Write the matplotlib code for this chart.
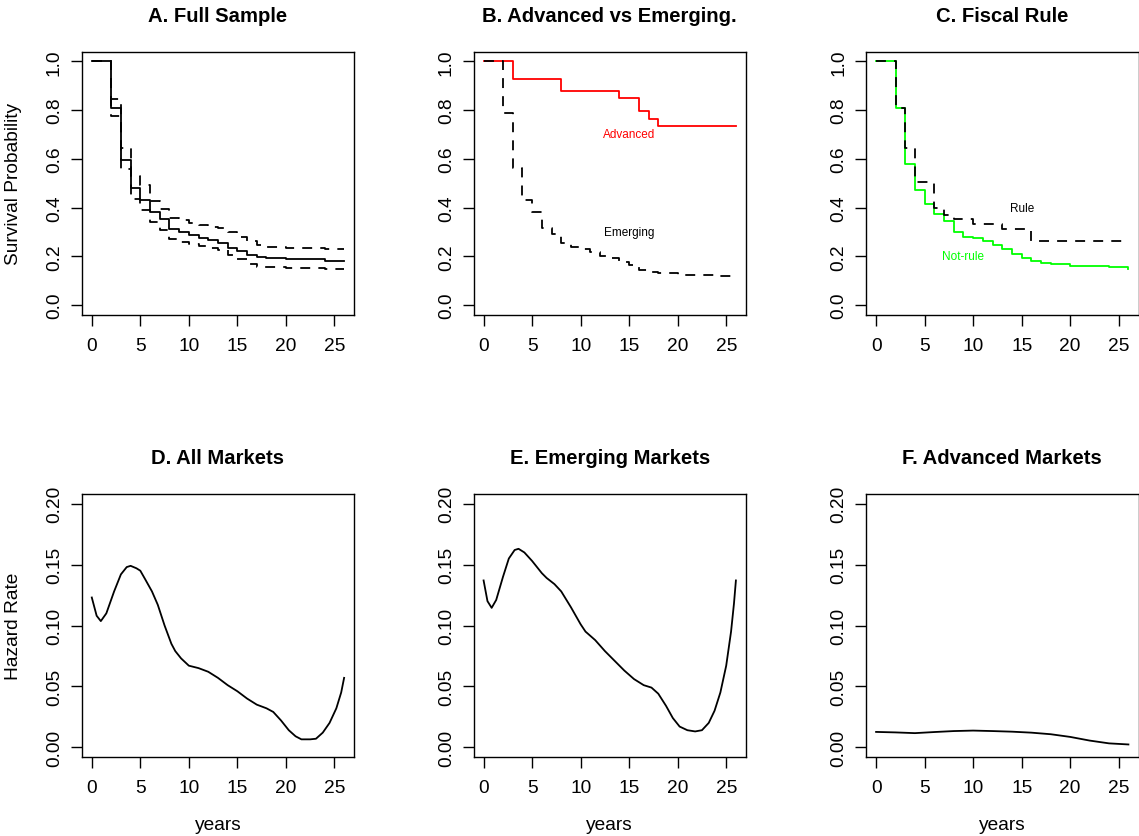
import numpy as np
import matplotlib
matplotlib.use("Agg")
import matplotlib.pyplot as plt

plt.rcParams['font.family'] = ['Liberation Sans', 'DejaVu Sans']

# ---- Kaplan-Meier survival curves (step functions) ----
km_t = [0, 2, 3, 4, 5, 6, 7, 8, 9, 10, 11, 12, 13, 14, 15, 16, 17, 18, 20, 24, 26]
full_surv = [1.0, 0.809, 0.597, 0.481, 0.433, 0.380, 0.351, 0.313, 0.298, 0.286, 0.276,
             0.265, 0.254, 0.235, 0.221, 0.205, 0.195, 0.191, 0.187, 0.182, 0.182]
full_upper = [1.0, 0.844, 0.645, 0.529, 0.492, 0.428, 0.396, 0.359, 0.348, 0.338, 0.330,
              0.322, 0.314, 0.298, 0.280, 0.262, 0.246, 0.237, 0.234, 0.228, 0.228]
full_lower = [1.0, 0.775, 0.557, 0.437, 0.389, 0.339, 0.307, 0.269, 0.260, 0.250, 0.244,
              0.235, 0.225, 0.205, 0.189, 0.167, 0.157, 0.154, 0.150, 0.148, 0.148]

adv_t = [0, 3, 8, 14, 16, 17, 18, 26]
adv_surv = [1.0, 0.929, 0.878, 0.850, 0.795, 0.765, 0.736, 0.736]
emg_surv = [1.0, 0.790, 0.563, 0.433, 0.380, 0.318, 0.291, 0.253, 0.236, 0.228, 0.216,
            0.202, 0.191, 0.178, 0.164, 0.143, 0.137, 0.133, 0.123, 0.118, 0.112]

norule_surv = [1.0, 0.809, 0.577, 0.471, 0.415, 0.373, 0.344, 0.298, 0.280, 0.273, 0.264,
               0.246, 0.231, 0.209, 0.193, 0.180, 0.173, 0.167, 0.161, 0.154, 0.148]
rule_t = [0, 2, 3, 4, 6, 7, 8, 10, 13, 16, 26]
rule_surv = [1.0, 0.809, 0.645, 0.505, 0.400, 0.370, 0.352, 0.331, 0.310, 0.264, 0.264]

# ---- smoothed hazard rates ----
hz_all_t = [0, 0.5, 0.93, 1.5, 2.3, 3.0, 3.6, 4.0, 4.6, 5.0, 5.5, 6.2, 6.8, 7.5, 8.2, 8.6,
            9.2, 10, 11, 12, 13, 14, 15, 16, 17, 18, 18.7, 19.5, 20.3, 21.0, 21.6, 22.5,
            23.1, 23.8, 24.5, 25.2, 25.7, 26.0]
hz_all = [0.123, 0.108, 0.1036, 0.110, 0.128, 0.142, 0.148, 0.149, 0.147, 0.145, 0.138,
          0.128, 0.117, 0.100, 0.085, 0.079, 0.073, 0.067, 0.065, 0.062, 0.057, 0.051,
          0.046, 0.040, 0.035, 0.032, 0.029, 0.022, 0.014, 0.009, 0.0065, 0.0065, 0.007,
          0.012, 0.020, 0.032, 0.045, 0.057]

hz_emg_t = [0, 0.4, 0.83, 1.3, 2.0, 2.6, 3.2, 3.6, 4.2, 5.0, 6.0, 6.5, 7.3, 8.0, 9.0, 10.0,
            10.5, 11.5, 12.5, 13.5, 14.5, 15.5, 16.5, 17.3, 18.0, 18.8, 19.5, 20.2, 21.0,
            21.8, 22.5, 23.2, 23.8, 24.4, 25.0, 25.5, 25.8, 26.0]
hz_emg = [0.137, 0.120, 0.1145, 0.121, 0.140, 0.155, 0.162, 0.163, 0.160, 0.153, 0.143,
          0.139, 0.134, 0.128, 0.115, 0.101, 0.095, 0.088, 0.079, 0.071, 0.063, 0.056,
          0.051, 0.049, 0.044, 0.034, 0.024, 0.017, 0.014, 0.013, 0.014, 0.020, 0.030,
          0.045, 0.067, 0.095, 0.118, 0.137]

hz_adv_t = [0, 2, 4, 6, 8, 10, 12, 14, 16, 18, 20, 22, 24, 26]
hz_adv = [0.0126, 0.0122, 0.0116, 0.0125, 0.0133, 0.0137, 0.0133, 0.0128, 0.0120, 0.0107,
          0.0085, 0.0055, 0.0032, 0.0023]

W, H = 1139, 837
fig = plt.figure(figsize=(W / 100, H / 100), dpi=100)

lefts = [81.7, 473.5, 866]
pw, ph = 272.5, 263
tops = [52.7, 495]

dash = (0, (5.5, 4.5))
lw = 1.3
fs = 13.8


def make_ax(col, row):
    ax = fig.add_axes([lefts[col] / W, (H - tops[row] - ph) / H, pw / W, ph / H])
    ax.set_xlim(-1.04, 27.04)
    ax.set_xticks([0, 5, 10, 15, 20, 25])
    ax.tick_params(direction='out', length=7.7, width=1.0, labelsize=fs)
    ax.tick_params(axis='x', pad=8)
    ax.tick_params(axis='y', pad=5.8, labelrotation=90)
    for s in ax.spines.values():
        s.set_linewidth(1.0)
    return ax


def surv_axis(ax):
    ax.set_ylim(-0.04, 1.04)
    ax.set_yticks([0, 0.2, 0.4, 0.6, 0.8, 1.0])
    ax.set_yticklabels(['0.0', '0.2', '0.4', '0.6', '0.8', '1.0'], va='center')


def haz_axis(ax):
    ax.set_ylim(-0.008, 0.208)
    ax.set_yticks([0, 0.05, 0.10, 0.15, 0.20])
    ax.set_yticklabels(['0.00', '0.05', '0.10', '0.15', '0.20'], va='center')


title_kw = dict(fontsize=14.6, fontweight='bold', pad=22)

# A
ax = make_ax(0, 0)
surv_axis(ax)
ax.plot(km_t, full_surv, drawstyle='steps-post', color='black', lw=lw)
ax.plot(km_t, full_upper, drawstyle='steps-post', color='black', lw=lw, linestyle=dash)
ax.plot(km_t, full_lower, drawstyle='steps-post', color='black', lw=lw, linestyle=dash)
ax.set_title('A. Full Sample', **title_kw)

# B
ax = make_ax(1, 0)
surv_axis(ax)
ax.plot(adv_t, adv_surv, drawstyle='steps-post', color='#FF0000', lw=lw)
ax.plot(km_t, emg_surv, drawstyle='steps-post', color='black', lw=lw, linestyle=dash)
ax.text(15, 0.7, 'Advanced', color='#FF0000', fontsize=8.5, ha='center', va='center')
ax.text(15, 0.3, 'Emerging', color='black', fontsize=8.5, ha='center', va='center')
ax.set_title('B. Advanced vs Emerging.', **title_kw)

# C
ax = make_ax(2, 0)
surv_axis(ax)
ax.plot(km_t, norule_surv, drawstyle='steps-post', color='#00FF00', lw=lw)
ax.plot(rule_t, rule_surv, drawstyle='steps-post', color='black', lw=lw, linestyle=dash)
ax.text(15, 0.4, 'Rule', color='black', fontsize=8.5, ha='center', va='center')
ax.text(9, 0.2, 'Not-rule', color='#00FF00', fontsize=8.5, ha='center', va='center')
ax.set_title('C. Fiscal Rule', **title_kw)

# D, E, F
for col, (t, h, title) in enumerate([(hz_all_t, hz_all, 'D. All Markets'),
                                     (hz_emg_t, hz_emg, 'E. Emerging Markets'),
                                     (hz_adv_t, hz_adv, 'F. Advanced Markets')]):
    ax = make_ax(col, 1)
    haz_axis(ax)
    ax.plot(t, h, color='black', lw=lw)
    ax.set_title(title, **title_kw)
    fig.text((lefts[col] + pw / 2) / W, (H - 826) / H, 'years', fontsize=fs,
             ha='center', va='center')

fig.text(13.5 / W, (H - (tops[0] + ph / 2)) / H, 'Survival Probability', fontsize=fs,
         rotation=90, ha='center', va='center')
fig.text(13.5 / W, (H - (tops[1] + ph / 2)) / H, 'Hazard Rate', fontsize=fs,
         rotation=90, ha='center', va='center')

fig.savefig('out.png', dpi=100)
